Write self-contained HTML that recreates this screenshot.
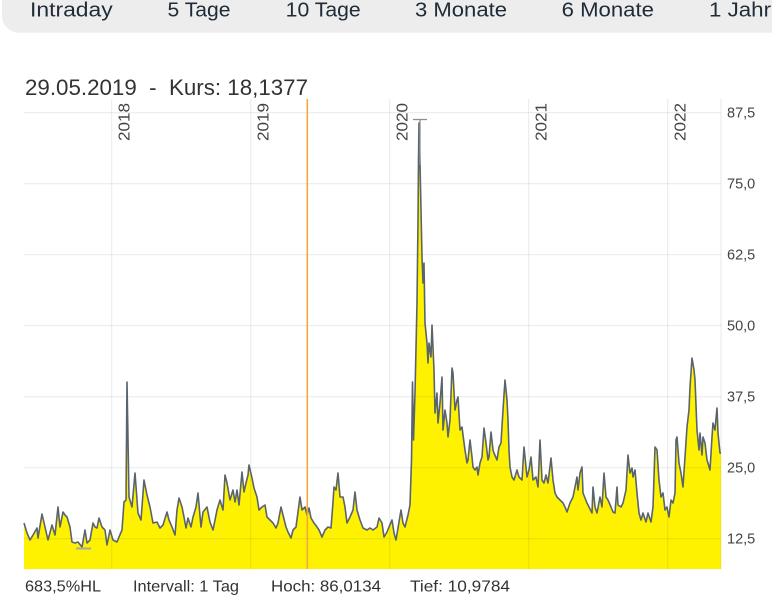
<!DOCTYPE html>
<html>
<head>
<meta charset="utf-8">
<style>
html,body{margin:0;padding:0;background:#fff;}
body{width:772px;height:609px;overflow:hidden;}
svg{display:block;font-family:"Liberation Sans",sans-serif;}
</style>
</head>
<body>
<svg width="772" height="609" viewBox="0 0 772 609" xmlns="http://www.w3.org/2000/svg">
  <!-- tab bar -->
  <rect x="2" y="-30" width="800" height="62.7" rx="17" ry="17" fill="#ededed"/>
  <g fill="#1f2b36" font-size="20">
    <text x="30" y="16.5" textLength="82.7" lengthAdjust="spacingAndGlyphs">Intraday</text>
    <text x="167.5" y="16.5" textLength="63" lengthAdjust="spacingAndGlyphs">5 Tage</text>
    <text x="285.7" y="16.5" textLength="75" lengthAdjust="spacingAndGlyphs">10 Tage</text>
    <text x="415" y="16.5" textLength="92" lengthAdjust="spacingAndGlyphs">3 Monate</text>
    <text x="561.6" y="16.5" textLength="92.4" lengthAdjust="spacingAndGlyphs">6 Monate</text>
    <text x="709" y="16.5" textLength="62" lengthAdjust="spacingAndGlyphs">1 Jahr</text>
  </g>

  <!-- title -->
  <text x="25" y="95" font-size="22" fill="#333" textLength="283" lengthAdjust="spacingAndGlyphs" xml:space="preserve">29.05.2019  -  Kurs: 18,1377</text>

  <!-- area fill -->
  <path fill="#fff200" stroke="none" d="M24,569 L24,523 27,533 30,540 33,535 37,528 38,538 42,514 45,527 48,540 52,525 55,535 58,507 60,527 63,512 65,515 67,517 70,527 72,542 75,543 78,542 82,547 85,530 87,543 90,540 93,523 95,527 97,528 99,518 102,527 105,530 107,545 110,530 113,540 117,542 119,537 122,530 124,502 126,500 127,382 129,497 132,507 135,473 138,513 141,520 144,480 147,495 150,507 153,523 157,522 160,528 163,525 167,512 169,520 172,527 175,535 177,510 179,498 182,507 184,517 186,528 188,518 191,527 193,517 196,507 198,493 201,527 203,512 207,507 210,522 213,530 217,510 220,500 223,510 225,475 227,483 230,500 233,490 235,502 237,490 239,505 242,472 244,492 246,483 248,475 249,465 252,478 254,488 257,497 259,510 262,507 265,505 267,517 270,520 273,523 276,528 278,523 281,507 283,515 286,527 288,532 291,538 293,530 296,527 298,512 300,497 302,510 305,507 307,515 309,508 311,518 314,523 317,527 319,530 322,537 325,530 328,527 331,528 333,502 334,487 336,490 338,473 340,497 343,497 345,507 347,523 350,517 353,510 355,492 357,510 360,520 363,528 367,530 370,528 373,530 377,527 379,518 382,523 384,537 387,532 389,527 392,520 394,533 396,540 398,528 401,510 403,523 405,527 408,515 410,505 411.5,460 412.5,382 413.5,440 415,393 417,303 418,220 418.5,160 419,123 420,163 421,210 422,257 423,283 424,263 425,323 427,343 428,363 429,343 431,357 432,325 434,370 435,413 437,393 438,423 440,403 442,377 443,430 445,410 447,423 448,437 450,420 452,368 453,373 455,410 457,400 458,397 460,430 462,427 463,435 465,450 467,463 468,460 470,440 472,457 473,467 475,470 477,467 478,475 480,463 482,457 484,428 486,443 488,460 489,457 491,432 493,450 494,453 497,460 499,447 501,443 503,410 505,380 507,400 508,420 509,450 510,467 512,477 514,480 517,470 519,477 522,480 524,447 527,477 529,470 531,457 533,480 536,477 538,487 540,440 542,480 544,483 546,475 548,483 551,458 553,480 555,493 557,497 560,500 563,503 565,507 567,512 570,503 573,497 575,487 577,477 578,490 580,473 582,467 583,493 585,498 587,503 589,507 592,513 593,487 595,507 597,513 600,497 602,507 604,473 606,497 608,500 611,507 613,512 615,513 617,487 618,505 621,507 623,503 626,490 628,455 630,473 632,468 633,477 635,470 637,493 639,513 641,520 643,513 646,522 648,513 651,522 653,507 655,447 657,450 659,480 661,497 663,493 665,510 667,507 669,517 671,500 673,503 675,493 676,440 677,437 679,463 681,473 683,487 685,457 687,427 689,410 690,387 692,358 694,370 695,380 697,430 699,450 700,433 702,455 703,437 705,443 707,460 708,463 710,470 712,437 713,423 715,430 717,408 718,433 720,453 721,453 L721,569 Z"/>

  <!-- grid -->
  <g stroke="rgba(0,0,0,0.075)" stroke-width="1.2" fill="none">
    <line x1="24" y1="112.7" x2="721" y2="112.7"/>
    <line x1="24" y1="183.7" x2="721" y2="183.7"/>
    <line x1="24" y1="254.7" x2="721" y2="254.7"/>
    <line x1="24" y1="325.7" x2="721" y2="325.7"/>
    <line x1="24" y1="396.7" x2="721" y2="396.7"/>
    <line x1="24" y1="467.7" x2="721" y2="467.7"/>
    <line x1="24" y1="538.7" x2="721" y2="538.7"/>
    <line x1="111.7" y1="99" x2="111.7" y2="569"/>
    <line x1="250.7" y1="99" x2="250.7" y2="569"/>
    <line x1="389.7" y1="99" x2="389.7" y2="569"/>
    <line x1="528.7" y1="99" x2="528.7" y2="569"/>
    <line x1="667.7" y1="99" x2="667.7" y2="569"/>
    <line x1="721" y1="99" x2="721" y2="569"/>
  </g>

  <!-- series line -->
  <polyline fill="none" stroke="#5a646c" stroke-width="1.6" stroke-linejoin="round" points="24,523 27,533 30,540 33,535 37,528 38,538 42,514 45,527 48,540 52,525 55,535 58,507 60,527 63,512 65,515 67,517 70,527 72,542 75,543 78,542 82,547 85,530 87,543 90,540 93,523 95,527 97,528 99,518 102,527 105,530 107,545 110,530 113,540 117,542 119,537 122,530 124,502 126,500 127,382 129,497 132,507 135,473 138,513 141,520 144,480 147,495 150,507 153,523 157,522 160,528 163,525 167,512 169,520 172,527 175,535 177,510 179,498 182,507 184,517 186,528 188,518 191,527 193,517 196,507 198,493 201,527 203,512 207,507 210,522 213,530 217,510 220,500 223,510 225,475 227,483 230,500 233,490 235,502 237,490 239,505 242,472 244,492 246,483 248,475 249,465 252,478 254,488 257,497 259,510 262,507 265,505 267,517 270,520 273,523 276,528 278,523 281,507 283,515 286,527 288,532 291,538 293,530 296,527 298,512 300,497 302,510 305,507 307,515 309,508 311,518 314,523 317,527 319,530 322,537 325,530 328,527 331,528 333,502 334,487 336,490 338,473 340,497 343,497 345,507 347,523 350,517 353,510 355,492 357,510 360,520 363,528 367,530 370,528 373,530 377,527 379,518 382,523 384,537 387,532 389,527 392,520 394,533 396,540 398,528 401,510 403,523 405,527 408,515 410,505 411.5,460 412.5,382 413.5,440 415,393 417,303 418,220 418.5,160 419,123 420,163 421,210 422,257 423,283 424,263 425,323 427,343 428,363 429,343 431,357 432,325 434,370 435,413 437,393 438,423 440,403 442,377 443,430 445,410 447,423 448,437 450,420 452,368 453,373 455,410 457,400 458,397 460,430 462,427 463,435 465,450 467,463 468,460 470,440 472,457 473,467 475,470 477,467 478,475 480,463 482,457 484,428 486,443 488,460 489,457 491,432 493,450 494,453 497,460 499,447 501,443 503,410 505,380 507,400 508,420 509,450 510,467 512,477 514,480 517,470 519,477 522,480 524,447 527,477 529,470 531,457 533,480 536,477 538,487 540,440 542,480 544,483 546,475 548,483 551,458 553,480 555,493 557,497 560,500 563,503 565,507 567,512 570,503 573,497 575,487 577,477 578,490 580,473 582,467 583,493 585,498 587,503 589,507 592,513 593,487 595,507 597,513 600,497 602,507 604,473 606,497 608,500 611,507 613,512 615,513 617,487 618,505 621,507 623,503 626,490 628,455 630,473 632,468 633,477 635,470 637,493 639,513 641,520 643,513 646,522 648,513 651,522 653,507 655,447 657,450 659,480 661,497 663,493 665,510 667,507 669,517 671,500 673,503 675,493 676,440 677,437 679,463 681,473 683,487 685,457 687,427 689,410 690,387 692,358 694,370 695,380 697,430 699,450 700,433 702,455 703,437 705,443 707,460 708,463 710,470 712,437 713,423 715,430 717,408 718,433 720,453 721,453"/>

  <!-- high / low markers -->
  <g stroke="#8a9096" stroke-width="1.3">
    <line x1="413" y1="119.5" x2="427" y2="119.5"/>
    <line x1="420" y1="119.5" x2="420" y2="165"/>
  </g>
  <line x1="76" y1="548.5" x2="91" y2="548.5" stroke="#a8a8a8" stroke-width="2"/>

  <!-- orange cursor line -->
  <line x1="307.3" y1="99" x2="307.3" y2="569" stroke="#f6a83f" stroke-width="1.6"/>

  <!-- year labels -->
  <g fill="#444" font-size="16" text-anchor="end">
    <text transform="translate(129.5,103) rotate(-90)" textLength="38" lengthAdjust="spacingAndGlyphs">2018</text>
    <text transform="translate(268.5,103) rotate(-90)" textLength="38" lengthAdjust="spacingAndGlyphs">2019</text>
    <text transform="translate(407.5,103) rotate(-90)" textLength="38" lengthAdjust="spacingAndGlyphs">2020</text>
    <text transform="translate(546.5,103) rotate(-90)" textLength="38" lengthAdjust="spacingAndGlyphs">2021</text>
    <text transform="translate(685.5,103) rotate(-90)" textLength="38" lengthAdjust="spacingAndGlyphs">2022</text>
  </g>

  <!-- y axis labels -->
  <g fill="#444" font-size="14.5">
    <text x="727" y="117.5">87,5</text>
    <text x="727" y="188.5">75,0</text>
    <text x="727" y="259.5">62,5</text>
    <text x="727" y="330.5">50,0</text>
    <text x="727" y="401.5">37,5</text>
    <text x="727" y="472.5">25,0</text>
    <text x="727" y="543.5">12,5</text>
  </g>

  <!-- footer -->
  <g fill="#333" font-size="16">
    <text x="25" y="591.5" textLength="76" lengthAdjust="spacingAndGlyphs">683,5%HL</text>
    <text x="133" y="591.5" textLength="106" lengthAdjust="spacingAndGlyphs">Intervall: 1 Tag</text>
    <text x="271" y="591.5" textLength="110" lengthAdjust="spacingAndGlyphs">Hoch: 86,0134</text>
    <text x="410" y="591.5" textLength="100" lengthAdjust="spacingAndGlyphs">Tief: 10,9784</text>
  </g>
</svg>
</body>
</html>
